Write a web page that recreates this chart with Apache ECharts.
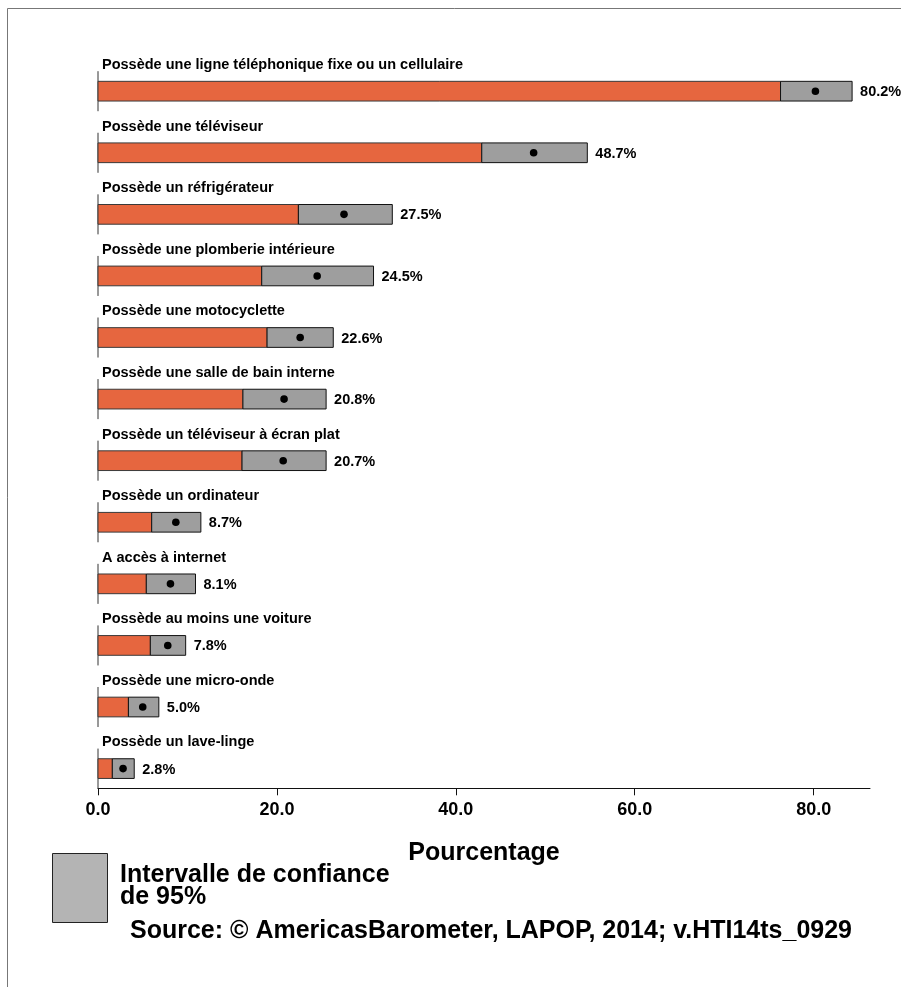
<!DOCTYPE html>
<html><head><meta charset="utf-8">
<script src="https://cdn.jsdelivr.net/npm/echarts@6/dist/echarts.min.js"></script>
<style>html,body{margin:0;padding:0;background:#fff}#c{width:901px;height:987px}</style>
</head><body><div id="c"></div>
<script>
const categories = [
  "Possède une ligne téléphonique fixe ou un cellulaire",
  "Possède une téléviseur",
  "Possède un réfrigérateur",
  "Possède une plomberie intérieure",
  "Possède une motocyclette",
  "Possède une salle de bain interne",
  "Possède un téléviseur à écran plat",
  "Possède un ordinateur",
  "A accès à internet",
  "Possède au moins une voiture",
  "Possède une micro-onde",
  "Possède un lave-linge"
];
const means   = [80.2, 48.7, 27.5, 24.5, 22.6, 20.8, 20.7, 8.7, 8.1, 7.8, 5.0, 2.8];
const lowerCI = [76.3, 42.9, 22.4, 18.3, 18.9, 16.2, 16.1, 6.0, 5.4, 5.85, 3.4, 1.6];
const upperCI = [84.3, 54.7, 32.9, 30.8, 26.3, 25.5, 25.5, 11.5, 10.9, 9.8, 6.8, 4.05];
const xTicks  = [0, 20, 40, 60, 80];
const axisTitle = "Pourcentage";
const legendLines = "Intervalle de confiance\nde 95%";
const sourceText = "Source: © AmericasBarometer, LAPOP, 2014; v.HTI14ts_0929";

const FONT = '"Liberation Sans", Arial, Helvetica, sans-serif';
const seriesData = categories.map((c, i) => [lowerCI[i], upperCI[i], means[i], i]);

function renderItem(params, api) {
  const lo = api.value(0), hi = api.value(1), m = api.value(2), i = api.value(3);
  const p0 = api.coord([0, i]);
  const pLo = api.coord([lo, i]);
  const pHi = api.coord([hi, i]);
  const pM = api.coord([m, i]);
  const band = api.size([0, 1])[1];
  const h = band * 0.32;
  const yc = p0[1];
  return {
    type: 'group',
    children: [
      { type: 'line', shape: { x1: p0[0], y1: yc - band * 0.325, x2: p0[0], y2: yc + band * 0.325 },
        style: { stroke: '#333', lineWidth: 1 } },
      { type: 'rect', shape: { x: p0[0], y: yc - h / 2, width: pLo[0] - p0[0], height: h },
        style: { fill: '#E6663F', stroke: '#3a3a3a', lineWidth: 1 } },
      { type: 'rect', shape: { x: pLo[0], y: yc - h / 2, width: pHi[0] - pLo[0], height: h },
        style: { fill: '#9E9E9E', stroke: '#111', lineWidth: 1 } },
      { type: 'circle', shape: { cx: pM[0], cy: yc, r: 3.8 }, style: { fill: '#000' } },
      { type: 'text', style: { text: categories[i], x: p0[0] + 4, y: yc - band * 0.425,
        fontSize: 14.5, fontWeight: 'bold', fontFamily: FONT, fill: '#000', align: 'left', verticalAlign: 'middle' } },
      { type: 'text', style: { text: means[i].toFixed(1) + '%', x: pHi[0] + 8, y: yc + 1,
        fontSize: 14.5, fontWeight: 'bold', fontFamily: FONT, fill: '#000', align: 'left', verticalAlign: 'middle' } }
    ]
  };
}

const chart = echarts.init(document.getElementById('c'), null, { renderer: 'canvas' });
chart.setOption({
  backgroundColor: '#fff',
  animation: false,
  grid: { left: 98, right: 31, top: 60.4, bottom: 198.7 },
  xAxis: {
    type: 'value', min: 0, max: 86.3, interval: 20,
    name: axisTitle, nameLocation: 'middle', nameGap: 52,
    nameTextStyle: { fontSize: 25, fontWeight: 'bold', fontFamily: FONT, color: '#000' },
    axisLine: { show: true, onZero: false, lineStyle: { color: '#111', width: 1 } },
    axisTick: { show: true, length: 7, lineStyle: { color: '#111' }, customValues: xTicks },
    axisLabel: { fontSize: 18, fontWeight: 'bold', fontFamily: FONT, color: '#000', margin: 13,
      customValues: xTicks,
      formatter: v => (xTicks.indexOf(v) >= 0 ? v.toFixed(1) : '') },
    splitLine: { show: false }
  },
  yAxis: {
    type: 'value', inverse: true, min: -0.5, max: 11.32,
    show: false, splitLine: { show: false }
  },
  series: [{
    type: 'custom', renderItem: renderItem, clip: false,
    encode: { x: [0, 1, 2], y: 3 },
    data: seriesData
  }],
  graphic: [
    { type: 'line', shape: { x1: 7.5, y1: 8.5, x2: 901, y2: 8.5 }, style: { stroke: '#777', lineWidth: 1 } },
    { type: 'line', shape: { x1: 7.5, y1: 8.5, x2: 7.5, y2: 987 }, style: { stroke: '#777', lineWidth: 1 } },
    { type: 'rect', shape: { x: 52.5, y: 853.5, width: 55, height: 69 },
      style: { fill: '#B4B4B4', stroke: '#222', lineWidth: 1 } },
    { type: 'text', x: 120, y: 864, style: { text: legendLines, fontSize: 25, fontWeight: 'bold',
      fontFamily: FONT, fill: '#000', lineHeight: 22, align: 'left', verticalAlign: 'top' } },
    { type: 'text', x: 130, y: 931, style: { text: sourceText, fontSize: 25, fontWeight: 'bold',
      fontFamily: FONT, fill: '#000', align: 'left', verticalAlign: 'middle' } }
  ]
});
</script>
</body></html>
